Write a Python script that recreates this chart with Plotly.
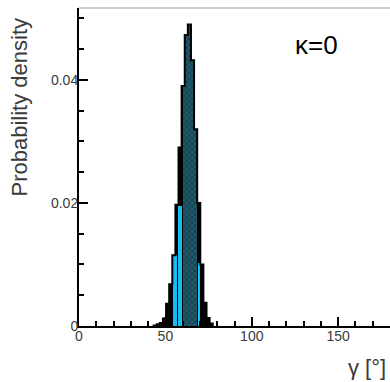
import plotly.graph_objects as go

# ---- data ----
bin_width = 1.8
bin_left = [43.2, 45.0, 46.8, 48.6, 50.4, 52.2, 54.0, 55.8, 57.6, 59.4,
            61.2, 63.0, 64.8, 66.6, 68.4, 70.2, 72.0, 73.8, 75.6]
density = [0.0001, 0.0003, 0.0005, 0.0012, 0.0036, 0.0068, 0.0115, 0.0197, 0.0290, 0.0390,
           0.0473, 0.0490, 0.0432, 0.0320, 0.0200, 0.0100, 0.0038, 0.0013, 0.0004]

# 95% region (light blue) columns: left edge, right edge, height
cyan_left = [54.4, 57.3, 68.6]
cyan_right = [56.7, 59.7, 70.0]
cyan_height = [0.0115, 0.0195, 0.0102]

# 68% region (dark, hatched)
interval68 = (60.2, 68.3)

x_ticks = [0, 50, 100, 150]
y_ticks = [0, 0.02, 0.04]
y_tick_text = ["0", "0.02", "0.04"]

# ---- derived ----
centers = [l + bin_width / 2 for l in bin_left]

teal_x, teal_w, teal_y = [], [], []
for l, d in zip(bin_left, density):
    a = max(l, interval68[0])
    b = min(l + bin_width, interval68[1])
    if b > a:
        teal_x.append((a + b) / 2)
        teal_w.append(b - a)
        teal_y.append(d)

step_x = [bin_left[0]] + [l for l in bin_left] + [bin_left[-1] + bin_width]
step_y = [0] + density + [density[-1]]
step_x.append(bin_left[-1] + bin_width)
step_y.append(0)

fig = go.Figure()
fig.add_trace(go.Bar(x=centers, y=density, width=bin_width,
                     marker=dict(color="black", line=dict(width=0))))
fig.add_trace(go.Bar(x=[(a + b) / 2 for a, b in zip(cyan_left, cyan_right)],
                     y=cyan_height,
                     width=[b - a for a, b in zip(cyan_left, cyan_right)],
                     marker=dict(color="#18bdf0", line=dict(width=0))))
fig.add_trace(go.Bar(x=teal_x, y=teal_y, width=teal_w,
                     marker=dict(color="#1f5868", line=dict(width=0),
                                 pattern=dict(shape="x", fgcolor="#0c252d",
                                              bgcolor="#1f5868", size=4, solidity=0.4))))
fig.add_trace(go.Scatter(x=step_x, y=step_y, mode="lines",
                         line=dict(color="black", width=2, shape="hv")))

tickfont = dict(family="Liberation Sans, Arial", size=14, color="#3a3a3a")

fig.update_layout(
    width=390, height=382,
    margin=dict(l=79, r=0, t=8, b=56),
    paper_bgcolor="white", plot_bgcolor="white",
    barmode="overlay", bargap=0, showlegend=False,
    xaxis=dict(range=[0, 180], tickvals=x_ticks, ticks="inside", ticklen=9,
               tickwidth=1.5, tickcolor="black", showgrid=False, zeroline=False,
               showline=True, linecolor="black", linewidth=2,
               minor=dict(dtick=10, ticks="inside", ticklen=5, tickwidth=1.5, tickcolor="black"),
               tickfont=tickfont, ticklabelstandoff=-4, automargin=False),
    yaxis=dict(range=[0, 0.0517], tickvals=y_ticks, ticktext=y_tick_text,
               ticks="inside", ticklen=9, tickwidth=1.5, tickcolor="black",
               showgrid=False, zeroline=False, showline=True, linecolor="black", linewidth=2,
               minor=dict(dtick=0.005, ticks="inside", ticklen=5, tickwidth=1.5, tickcolor="black"),
               tickfont=tickfont, ticklabelstandoff=-4, automargin=False),
    shapes=[dict(type="line", xref="paper", yref="paper", x0=0, x1=1, y0=1, y1=1,
                 line=dict(color="#999999", width=1))],
    annotations=[
        dict(text="Probability density", textangle=-90, xref="paper", yref="paper",
             x=-0.19, y=0.69, xanchor="center", yanchor="middle", showarrow=False,
             font=dict(family="Liberation Sans, Arial", size=22, color="#3a3a3a")),
        dict(text="γ [°]", xref="paper", yref="paper", x=0.995, y=-0.13,
             xanchor="right", yanchor="middle", showarrow=False,
             font=dict(family="Liberation Sans, Arial", size=22, color="#3a3a3a")),
        dict(text="κ=0", xref="paper", yref="paper", x=0.765, y=0.885,
             xanchor="center", yanchor="middle", showarrow=False,
             font=dict(family="Liberation Sans, Arial", size=26, color="black")),
    ],
)

fig.write_html("out.html", config={"displayModeBar": False},
               post_script="document.body.style.margin='0px';")
